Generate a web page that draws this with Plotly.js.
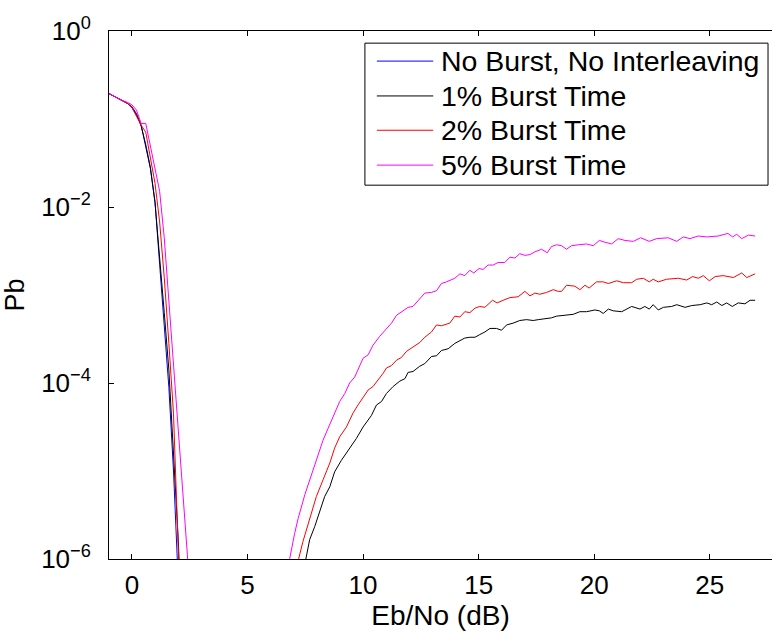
<!DOCTYPE html>
<html>
<head>
<meta charset="utf-8">
<script src="https://cdn.plot.ly/plotly-3.0.1.min.js"></script>
<style>html,body{margin:0;padding:0;background:#fff;}#chart{width:772px;height:633px;}</style>
</head>
<body>
<div id="chart"></div>
<script>
// ---- Data (x in dB, Pb values) ----
var seriesNames = ["No Burst, No Interleaving", "1% Burst Time", "2% Burst Time", "5% Burst Time"];
var seriesColors = ["#0000ff", "#000000", "#ff0000", "#ff00ff"];

// No burst (waterfall only)
var xBlue  = [-1.0,-0.8,-0.6,-0.4,-0.2,0.0,0.2,0.4,0.6,0.8,1.0,1.2,1.4,1.6,1.8,1.9,2.0];
var pbBlue = [0.195,0.182,0.170,0.162,0.151,0.138,0.115,0.0832,0.0513,0.0282,0.0115,2.24e-3,4.47e-4,8.91e-5,1.0e-5,2.6e-6,6.0e-7];

// 1% burst
var xBlackLow  = [-1.0,-0.8,-0.6,-0.4,-0.2,0.0,0.2,0.4,0.6,0.8,1.0,1.2,1.4,1.6,1.8,2.0,2.2];
var pbBlackLow = [0.195,0.182,0.170,0.162,0.151,0.135,0.112,0.0851,0.0501,0.0275,0.0112,2.82e-3,6.31e-4,1.41e-4,1.78e-5,1.78e-6,1.0e-7];
var xBlackHigh  = [7.3,7.52,7.69,7.91,8.13,8.34,8.56,8.77,9.06,9.42,9.71,10.0,10.15,10.36,10.58,10.80,11.01,11.30,11.59,11.81,11.95,12.16,12.45,12.67,12.96,13.18,13.39,13.68,13.97,14.19,14.40,14.62,14.84,15.05,15.27,15.49,15.77,15.99,16.21,16.49,16.78,17.07,17.36,17.58,17.94,18.15,18.37,18.73,19.09,19.38,19.67,20.03,20.22,20.39,20.61,20.82,21.19,21.62,21.98,22.19,22.38,22.55,22.77,22.99,23.35,23.57,23.93,24.22,24.58,24.87,25.08,25.30,25.52,25.73,25.97,26.23,26.52,26.74,26.96];
var pbBlackHigh = [5.0e-7,1.02e-6,1.66e-6,2.34e-6,3.47e-6,5.13e-6,6.61e-6,9.77e-6,1.32e-5,1.82e-5,2.34e-5,3.16e-5,3.63e-5,4.27e-5,5.62e-5,6.17e-5,7.59e-5,9.12e-5,1.05e-4,1.12e-4,1.32e-4,1.35e-4,1.55e-4,1.66e-4,2.00e-4,2.04e-4,2.34e-4,2.45e-4,2.82e-4,3.02e-4,3.24e-4,3.31e-4,3.31e-4,3.55e-4,3.80e-4,4.17e-4,4.17e-4,3.98e-4,4.57e-4,4.79e-4,5.13e-4,5.25e-4,5.13e-4,5.25e-4,5.37e-4,5.50e-4,5.75e-4,5.89e-4,6.03e-4,6.46e-4,6.46e-4,6.76e-4,6.61e-4,6.17e-4,6.92e-4,6.61e-4,6.46e-4,7.41e-4,6.92e-4,7.41e-4,6.92e-4,7.76e-4,6.76e-4,7.24e-4,7.41e-4,7.76e-4,7.24e-4,7.59e-4,7.76e-4,8.13e-4,7.76e-4,8.32e-4,7.59e-4,8.13e-4,7.41e-4,8.13e-4,7.94e-4,8.71e-4,8.71e-4];

// 2% burst
var xRedLow  = [-1.0,-0.8,-0.6,-0.4,-0.2,0.0,0.2,0.4,0.6,0.8,1.0,1.2,1.4,1.6,1.8,2.0,2.2];
var pbRedLow = [0.195,0.182,0.170,0.162,0.151,0.135,0.107,0.0851,0.0708,0.0372,0.0186,6.76e-3,1.58e-3,2.82e-4,4.47e-5,1.41e-6,5.0e-8];
var xRedHigh  = [7.05,7.22,7.40,7.69,7.98,8.27,8.56,8.77,8.99,9.28,9.57,9.78,10.0,10.22,10.43,10.65,10.87,11.01,11.23,11.45,11.66,11.88,12.16,12.45,12.67,12.96,13.18,13.39,13.75,13.97,14.19,14.40,14.62,14.84,15.05,15.27,15.60,15.80,16.06,16.35,16.71,17.0,17.22,17.43,17.65,17.94,18.23,18.44,18.59,18.80,19.16,19.38,19.60,19.78,20.10,20.39,20.61,20.97,21.26,21.62,21.84,22.12,22.38,22.55,22.77,23.13,23.64,24.0,24.26,24.50,24.72,24.98,25.23,25.58,26.02,26.38,26.60,26.96];
var pbRedHigh = [3.98e-7,1.02e-6,1.58e-6,2.88e-6,5.13e-6,7.94e-6,1.23e-5,1.82e-5,2.45e-5,3.16e-5,4.57e-5,5.62e-5,6.92e-5,8.32e-5,9.12e-5,1.07e-4,1.29e-4,1.48e-4,1.58e-4,1.82e-4,1.95e-4,2.29e-4,2.57e-4,2.88e-4,3.31e-4,3.80e-4,4.57e-4,4.47e-4,4.79e-4,5.75e-4,5.62e-4,6.46e-4,6.31e-4,7.08e-4,7.41e-4,7.24e-4,8.71e-4,8.13e-4,8.71e-4,9.33e-4,9.55e-4,1.10e-3,9.77e-4,1.05e-3,1.02e-3,1.07e-3,1.15e-3,1.10e-3,1.10e-3,1.29e-3,1.26e-3,1.15e-3,1.29e-3,1.20e-3,1.41e-3,1.41e-3,1.35e-3,1.45e-3,1.38e-3,1.38e-3,1.51e-3,1.55e-3,1.41e-3,1.51e-3,1.41e-3,1.51e-3,1.55e-3,1.48e-3,1.62e-3,1.55e-3,1.66e-3,1.45e-3,1.62e-3,1.66e-3,1.58e-3,1.78e-3,1.58e-3,1.74e-3];

// 5% burst
var xMagLow  = [-1.0,-0.8,-0.6,-0.4,-0.2,0.0,0.2,0.4,0.6,0.8,1.0,1.2,1.4,1.6,1.8,2.0,2.2,2.4,2.6];
var pbMagLow = [0.195,0.182,0.170,0.162,0.155,0.145,0.126,0.0891,0.0891,0.0490,0.0269,0.0151,4.47e-3,8.91e-4,1.66e-4,3.16e-5,6.03e-6,1.12e-6,1.58e-7];
var xMagHigh  = [6.65,6.83,7.04,7.19,7.48,7.84,8.27,8.48,8.77,8.99,9.21,9.42,9.64,9.85,10.0,10.22,10.43,10.72,11.01,11.23,11.45,11.66,11.95,12.16,12.45,12.67,12.96,13.18,13.39,13.61,13.97,14.19,14.40,14.62,14.79,15.02,15.19,15.41,15.63,15.84,16.13,16.35,16.57,16.78,17.0,17.22,17.43,17.72,17.97,18.15,18.37,18.59,18.80,19.02,19.31,19.67,19.96,20.22,20.46,20.75,21.04,21.33,21.69,22.01,22.38,22.70,23.20,23.57,23.85,24.14,24.50,24.87,25.37,25.78,25.99,26.16,26.38,26.67,26.96];
var pbMagHigh = [3.98e-7,1.02e-6,1.95e-6,2.88e-6,5.37e-6,1.02e-5,2.24e-5,3.02e-5,4.57e-5,6.17e-5,7.59e-5,1.00e-4,1.17e-4,1.58e-4,1.91e-4,2.09e-4,2.69e-4,3.39e-4,4.17e-4,4.79e-4,5.89e-4,6.46e-4,7.24e-4,7.41e-4,9.12e-4,1.05e-3,1.07e-3,1.12e-3,1.35e-3,1.41e-3,1.55e-3,1.74e-3,1.66e-3,1.91e-3,1.78e-3,2.00e-3,1.95e-3,2.19e-3,2.19e-3,2.34e-3,2.34e-3,2.69e-3,2.63e-3,2.95e-3,2.82e-3,2.88e-3,3.09e-3,3.31e-3,3.02e-3,3.55e-3,3.72e-3,3.63e-3,3.31e-3,3.63e-3,3.72e-3,3.80e-3,3.63e-3,4.17e-3,3.98e-3,3.80e-3,4.37e-3,4.17e-3,4.07e-3,4.47e-3,4.07e-3,4.37e-3,4.47e-3,4.07e-3,4.57e-3,4.37e-3,4.68e-3,4.57e-3,4.68e-3,5.01e-3,4.57e-3,4.90e-3,4.37e-3,4.79e-3,4.68e-3];

var xTickVals = [0, 5, 10, 15, 20, 25];
var yTickVals = [1e-6, 1e-4, 1e-2, 1];
var yTickText = ["10<sup>\u22126</sup>", "10<sup>\u22124</sup>", "10<sup>\u22122</sup>", "10<sup>0</sup>"];

// join low and high segments with a gap (zero-error region, not drawable on log axis)
function joinSeg(a, b) { return a.concat([null], b); }

var xs = [xBlue, joinSeg(xBlackLow, xBlackHigh), joinSeg(xRedLow, xRedHigh), joinSeg(xMagLow, xMagHigh)];
var ys = [pbBlue, joinSeg(pbBlackLow, pbBlackHigh), joinSeg(pbRedLow, pbRedHigh), joinSeg(pbMagLow, pbMagHigh)];

var traces = seriesNames.map(function (n, i) {
  return {
    x: xs[i], y: ys[i], name: n, type: "scatter", mode: "lines",
    line: { color: seriesColors[i], width: 1 }, connectgaps: false, showlegend: false
  };
});

// ---- Legend box (drawn in paper coordinates, MATLAB style) ----
var legBox = { x0: 0.386, x1: 0.994, y0: 0.708, y1: 0.977 };
var legLineX = [0.404, 0.489];
var legTextX = 0.498;
var legRowY = [0.943, 0.877, 0.812, 0.746];

var shapes = [{
  type: "rect", xref: "paper", yref: "paper",
  x0: legBox.x0, x1: legBox.x1, y0: legBox.y0, y1: legBox.y1,
  line: { color: "#000", width: 1 }, fillcolor: "#fff", layer: "above"
}];
var annotations = [];
seriesNames.forEach(function (n, i) {
  shapes.push({
    type: "line", xref: "paper", yref: "paper",
    x0: legLineX[0], x1: legLineX[1], y0: legRowY[i], y1: legRowY[i],
    line: { color: seriesColors[i], width: 1 }, layer: "above"
  });
  annotations.push({
    xref: "paper", yref: "paper", x: legTextX, y: legRowY[i],
    xanchor: "left", yanchor: "middle", showarrow: false,
    text: n, font: { size: 28.5, color: "#000" }
  });
});

var fontFam = "Liberation Sans, Arial, Helvetica, sans-serif";
var layout = {
  width: 772, height: 633,
  margin: { l: 109, r: 0, t: 31, b: 74 },
  paper_bgcolor: "#ffffff", plot_bgcolor: "#ffffff",
  font: { family: fontFam, size: 26, color: "#000" },
  showlegend: false,
  shapes: shapes,
  annotations: annotations,
  xaxis: {
    type: "linear", range: [-0.99, 27.69],
    tickmode: "array", tickvals: xTickVals,
    ticks: "inside", ticklen: 5, tickcolor: "#000", tickwidth: 1,
    showline: true, linecolor: "#000", linewidth: 1, mirror: "ticks",
    showgrid: false, zeroline: false,
    tickfont: { size: 26 }, ticklabelstandoff: 3,
    title: { text: "Eb/No (dB)", font: { size: 28 }, standoff: 0 }
  },
  yaxis: {
    type: "log", range: [-6, 0],
    tickmode: "array", tickvals: yTickVals, ticktext: yTickText,
    ticks: "inside", ticklen: 5, tickcolor: "#000", tickwidth: 1,
    showline: true, linecolor: "#000", linewidth: 1, mirror: false,
    showgrid: false, zeroline: false,
    tickfont: { size: 26 }, ticklabelstandoff: 12,
    title: { text: "Pb", font: { size: 27 }, standoff: 11 }
  }
};

Plotly.newPlot("chart", traces, layout, { staticPlot: true, displayModeBar: false });
</script>
</body>
</html>
